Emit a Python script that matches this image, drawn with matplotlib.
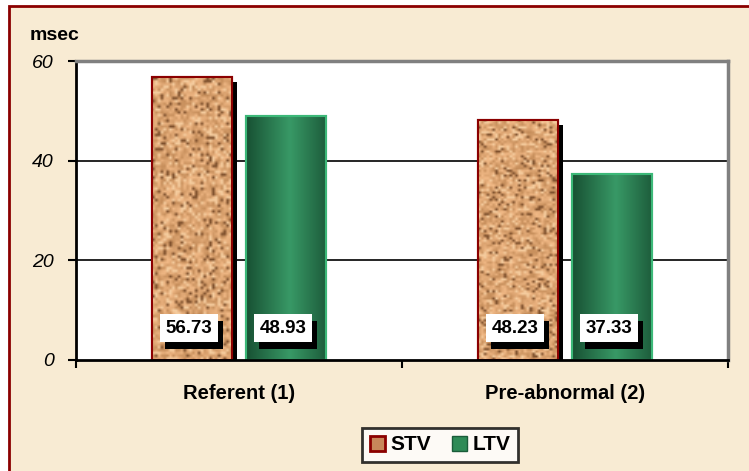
import numpy as np
import matplotlib
matplotlib.use("Agg")
import matplotlib.pyplot as plt
from matplotlib.patches import Rectangle
from matplotlib import patheffects as pe

groups = ["Referent (1)", "Pre-abnormal (2)"]
series = ["STV", "LTV"]
stv = [56.73, 48.23]
ltv = [48.93, 37.33]
yticks = [0, 20, 40, 60]

W, H = 749, 471
fig = plt.figure(figsize=(W / 100, H / 100), dpi=100, facecolor="white")

# beige frame with dark red border (runs off the right/bottom edge)
fig.patches.append(Rectangle((9 / W, -0.05), 1.1, 1 - 6 / H + 0.05,
                             transform=fig.transFigure, facecolor="#f8ebd3",
                             edgecolor="#8b0000", lw=2, zorder=-5))

ax = fig.add_axes([76 / W, 1 - 360 / H, (728 - 76) / W, (360 - 61) / H])
ax.set_facecolor("white")

x = np.arange(len(groups))
bw = 0.245
off = 0.144

rng = np.random.default_rng(7)


def cork_texture():
    # speckled tan texture for the STV bars
    shape = (100, 28)
    n = rng.random(shape)
    base = np.array([0.86, 0.64, 0.44])
    img = base + (n[..., None] - 0.5) * 0.18
    dark = rng.random(shape) > 0.87
    img[dark] = [0.50, 0.32, 0.18]
    light = rng.random(shape) > 0.85
    img[light] = [0.96, 0.80, 0.62]
    return np.clip(img, 0, 1)


def green_gradient():
    t = np.linspace(0, 1, 60)
    w = 1 - np.abs(t - 0.55) * 1.9
    w = np.clip(w, 0, 1)
    dark = np.array([0.10, 0.33, 0.21])
    lite = np.array([0.22, 0.60, 0.40])
    row = dark + (lite - dark) * w[:, None]
    return np.tile(row[None, :, :], (10, 1, 1))


shadow = [pe.SimplePatchShadow(offset=(3.6, -3.6), shadow_rgbFace="black",
                               alpha=1.0), pe.Normal()]
box_shadow = [pe.SimplePatchShadow(offset=(3.6, -5.0), shadow_rgbFace="black",
                                   alpha=1.0), pe.Normal()]

stv_bars = ax.bar(x - off, stv, bw, color="#d49a68", edgecolor="#8b0000",
                  lw=1.5, zorder=3, path_effects=shadow)
ltv_bars = ax.bar(x + off, ltv, bw, color="#2a7a50", edgecolor="#3cb878",
                  lw=1.5, zorder=3)

for b in stv_bars:
    im = ax.imshow(cork_texture(), extent=(b.get_x(), b.get_x() + b.get_width(),
                                           0, b.get_height()),
                   aspect="auto", zorder=3.2, interpolation="bilinear")
    im.set_clip_path(b)
for b in ltv_bars:
    im = ax.imshow(green_gradient(), extent=(b.get_x(), b.get_x() + b.get_width(),
                                             0, b.get_height()),
                   aspect="auto", zorder=3.2, interpolation="bilinear")
    im.set_clip_path(b)
ax.bar(x - off, stv, bw, fill=False, edgecolor="#8b0000", lw=1.5, zorder=3.5)
ax.bar(x + off, ltv, bw, fill=False, edgecolor="#3cb878", lw=1.5, zorder=3.5)

# value labels: white boxes with a black drop shadow
for bars, vals in ((stv_bars, stv), (ltv_bars, ltv)):
    for b, v in zip(bars, vals):
        cx = b.get_x() + b.get_width() / 2
        t = ax.annotate(f"{v:.2f}", (cx, 6.4), xytext=(-2.2, 0),
                        textcoords="offset points", ha="center", va="center",
                        fontsize=13.5, fontweight="bold", color="black",
                        family="Liberation Sans",
                        bbox=dict(boxstyle="square,pad=0.3", fc="white", ec="none"),
                        zorder=5)
        t.get_bbox_patch().set_path_effects(box_shadow)

ax.set_xlim(-0.5, 1.5)
ax.set_ylim(0, 60)
ax.set_yticks(yticks)
ax.set_yticklabels([str(t) for t in yticks], fontstyle="italic", fontsize=14,
                   family="Liberation Sans")
ax.set_xticks([-0.5, 0.5, 1.5])
ax.set_xticklabels([])
ax.set_xticks(x, minor=True)
ax.set_xticklabels(groups, minor=True, fontweight="bold", fontsize=14.5,
                   family="Liberation Sans")
ax.tick_params(axis="x", which="minor", length=0, pad=17)
ax.tick_params(axis="x", which="major", length=6, width=1.5, color="black")
ax.tick_params(axis="y", length=6, width=1.5, pad=10)

for yv in yticks[1:-1]:
    ax.axhline(yv, color="black", lw=1.2, zorder=1)

ax.spines["left"].set_linewidth(2)
ax.spines["bottom"].set_linewidth(2)
ax.spines["bottom"].set_zorder(6)
for s in ("top", "right"):
    ax.spines[s].set_color("#808080")
    ax.spines[s].set_linewidth(2.5)

fig.text(30 / W, 1 - 36 / H, "msec", fontsize=14, fontweight="bold",
         family="Liberation Sans", va="center")

handles = [Rectangle((0, 0), 1, 1, fc="#c8875a", ec="#8b0000", lw=2),
           Rectangle((0, 0), 1, 1, fc="#2e8b57", ec="#1a5c3a", lw=1)]
leg = fig.legend(handles, series, loc="center", bbox_to_anchor=(440 / W, 1 - 445 / H),
                 ncol=2, frameon=True, fancybox=False, handlelength=0.75,
                 handleheight=0.75, handletextpad=0.25, columnspacing=1.0,
                 borderpad=0.35, prop={"family": "Liberation Sans",
                                       "weight": "bold", "size": 15})
leg.get_frame().set_edgecolor("black")
leg.get_frame().set_linewidth(2)
leg.get_frame().set_facecolor("white")

fig.savefig("out.png", dpi=100, facecolor=fig.get_facecolor())
